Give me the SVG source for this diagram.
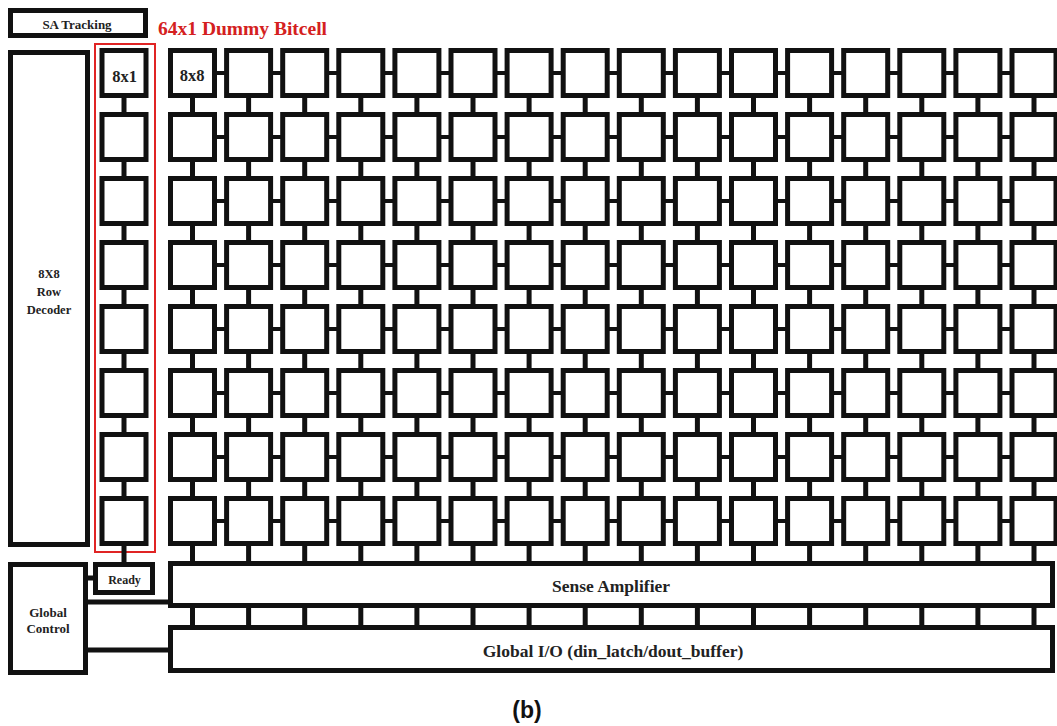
<svg xmlns="http://www.w3.org/2000/svg" xmlns:xlink="http://www.w3.org/1999/xlink" width="1057" height="726" viewBox="0 0 1057 726">
<style>
.blk{fill:#fff;stroke:#111;stroke-width:5}
.wire{stroke:#111;stroke-width:5;fill:none}
.hw{stroke:#111;stroke-width:4;fill:none}
.t{font-family:"Liberation Serif",serif;font-weight:bold;fill:#222;text-anchor:middle}
</style>
<defs>
<rect id="cell" x="2.5" y="2.5" width="44" height="45" class="blk"/>
</defs>
<rect width="1057" height="726" fill="#fff"/>
<rect x="95" y="44" width="60" height="508" fill="none" stroke="#e02424" stroke-width="2"/>
<g id="connectors">
<path class="wire" d="M192.5 60V625M248.6 60V625M304.7 60V625M360.8 60V625M416.9 60V625M473 60V625M529.1 60V625M585.2 60V625M641.3 60V625M697.4 60V625M753.5 60V625M809.6 60V625M865.7 60V625M921.8 60V625M977.9 60V625M1034 60V625"/>
<path class="wire" d="M124 60V564"/>
<path class="hw" d="M180 73H1057M180 137H1057M180 201H1057M180 265H1057M180 329H1057M180 393H1057M180 457H1057M180 521H1057"/>
<path class="wire" d="M86 578H96M86 602H171M86 650H171"/>
</g>
<g id="sa-tracking"><rect x="10.5" y="10.5" width="135" height="25" class="blk"/><text class="t" x="77" y="29" font-size="13">SA Tracking</text></g>
<g id="dummy-label"><text x="158" y="35" font-family="Liberation Serif,serif" font-weight="bold" font-size="19.5" fill="#d42020">64x1 Dummy Bitcell</text></g>
<g id="row-decoder"><rect x="10.5" y="52.5" width="77" height="492" class="blk"/><text class="t" font-size="12.5"><tspan x="49" y="278">8X8</tspan><tspan x="49" y="296">Row</tspan><tspan x="49" y="314">Decoder</tspan></text></g>
<g id="global-control"><rect x="10.5" y="564.5" width="75" height="108" class="blk"/><text class="t" font-size="13"><tspan x="48" y="617">Global</tspan><tspan x="48" y="633">Control</tspan></text></g>
<g id="ready"><rect x="95.5" y="564.5" width="57" height="28" class="blk"/><text class="t" x="124.5" y="584" font-size="12">Ready</text></g>
<g id="sense-amp"><rect x="170.5" y="563.5" width="882" height="42" class="blk"/><text class="t" x="611" y="592" font-size="17.5">Sense Amplifier</text></g>
<g id="global-io"><rect x="170.5" y="627.5" width="882" height="43" class="blk"/><text class="t" x="613" y="657" font-size="17.5">Global I/O (din_latch/dout_buffer)</text></g>
<g id="caption"><text x="527" y="718" font-family="Liberation Sans,sans-serif" font-weight="bold" font-size="23" fill="#111" text-anchor="middle">(b)</text></g>
<g id="d1"><use href="#cell" x="99.5" y="48"/><text class="t" x="124.5" y="82" font-size="16.5">8x1</text></g>
<g id="d2"><use href="#cell" x="99.5" y="112"/></g>
<g id="d3"><use href="#cell" x="99.5" y="176"/></g>
<g id="d4"><use href="#cell" x="99.5" y="240"/></g>
<g id="d5"><use href="#cell" x="99.5" y="304"/></g>
<g id="d6"><use href="#cell" x="99.5" y="368"/></g>
<g id="d7"><use href="#cell" x="99.5" y="432"/></g>
<g id="d8"><use href="#cell" x="99.5" y="496"/></g>
<g id="r1">
<g id="c1-1"><use href="#cell" x="168" y="48"/><text class="t" x="192" y="81" font-size="16.5">8x8</text></g>
<g id="c1-2"><use href="#cell" x="224.1" y="48"/></g>
<g id="c1-3"><use href="#cell" x="280.2" y="48"/></g>
<g id="c1-4"><use href="#cell" x="336.3" y="48"/></g>
<g id="c1-5"><use href="#cell" x="392.4" y="48"/></g>
<g id="c1-6"><use href="#cell" x="448.5" y="48"/></g>
<g id="c1-7"><use href="#cell" x="504.6" y="48"/></g>
<g id="c1-8"><use href="#cell" x="560.7" y="48"/></g>
<g id="c1-9"><use href="#cell" x="616.8" y="48"/></g>
<g id="c1-10"><use href="#cell" x="672.9" y="48"/></g>
<g id="c1-11"><use href="#cell" x="729" y="48"/></g>
<g id="c1-12"><use href="#cell" x="785.1" y="48"/></g>
<g id="c1-13"><use href="#cell" x="841.2" y="48"/></g>
<g id="c1-14"><use href="#cell" x="897.3" y="48"/></g>
<g id="c1-15"><use href="#cell" x="953.4" y="48"/></g>
<g id="c1-16"><use href="#cell" x="1009.5" y="48"/></g>
</g>
<g id="r2">
<g id="c2-1"><use href="#cell" x="168" y="112"/></g>
<g id="c2-2"><use href="#cell" x="224.1" y="112"/></g>
<g id="c2-3"><use href="#cell" x="280.2" y="112"/></g>
<g id="c2-4"><use href="#cell" x="336.3" y="112"/></g>
<g id="c2-5"><use href="#cell" x="392.4" y="112"/></g>
<g id="c2-6"><use href="#cell" x="448.5" y="112"/></g>
<g id="c2-7"><use href="#cell" x="504.6" y="112"/></g>
<g id="c2-8"><use href="#cell" x="560.7" y="112"/></g>
<g id="c2-9"><use href="#cell" x="616.8" y="112"/></g>
<g id="c2-10"><use href="#cell" x="672.9" y="112"/></g>
<g id="c2-11"><use href="#cell" x="729" y="112"/></g>
<g id="c2-12"><use href="#cell" x="785.1" y="112"/></g>
<g id="c2-13"><use href="#cell" x="841.2" y="112"/></g>
<g id="c2-14"><use href="#cell" x="897.3" y="112"/></g>
<g id="c2-15"><use href="#cell" x="953.4" y="112"/></g>
<g id="c2-16"><use href="#cell" x="1009.5" y="112"/></g>
</g>
<g id="r3">
<g id="c3-1"><use href="#cell" x="168" y="176"/></g>
<g id="c3-2"><use href="#cell" x="224.1" y="176"/></g>
<g id="c3-3"><use href="#cell" x="280.2" y="176"/></g>
<g id="c3-4"><use href="#cell" x="336.3" y="176"/></g>
<g id="c3-5"><use href="#cell" x="392.4" y="176"/></g>
<g id="c3-6"><use href="#cell" x="448.5" y="176"/></g>
<g id="c3-7"><use href="#cell" x="504.6" y="176"/></g>
<g id="c3-8"><use href="#cell" x="560.7" y="176"/></g>
<g id="c3-9"><use href="#cell" x="616.8" y="176"/></g>
<g id="c3-10"><use href="#cell" x="672.9" y="176"/></g>
<g id="c3-11"><use href="#cell" x="729" y="176"/></g>
<g id="c3-12"><use href="#cell" x="785.1" y="176"/></g>
<g id="c3-13"><use href="#cell" x="841.2" y="176"/></g>
<g id="c3-14"><use href="#cell" x="897.3" y="176"/></g>
<g id="c3-15"><use href="#cell" x="953.4" y="176"/></g>
<g id="c3-16"><use href="#cell" x="1009.5" y="176"/></g>
</g>
<g id="r4">
<g id="c4-1"><use href="#cell" x="168" y="240"/></g>
<g id="c4-2"><use href="#cell" x="224.1" y="240"/></g>
<g id="c4-3"><use href="#cell" x="280.2" y="240"/></g>
<g id="c4-4"><use href="#cell" x="336.3" y="240"/></g>
<g id="c4-5"><use href="#cell" x="392.4" y="240"/></g>
<g id="c4-6"><use href="#cell" x="448.5" y="240"/></g>
<g id="c4-7"><use href="#cell" x="504.6" y="240"/></g>
<g id="c4-8"><use href="#cell" x="560.7" y="240"/></g>
<g id="c4-9"><use href="#cell" x="616.8" y="240"/></g>
<g id="c4-10"><use href="#cell" x="672.9" y="240"/></g>
<g id="c4-11"><use href="#cell" x="729" y="240"/></g>
<g id="c4-12"><use href="#cell" x="785.1" y="240"/></g>
<g id="c4-13"><use href="#cell" x="841.2" y="240"/></g>
<g id="c4-14"><use href="#cell" x="897.3" y="240"/></g>
<g id="c4-15"><use href="#cell" x="953.4" y="240"/></g>
<g id="c4-16"><use href="#cell" x="1009.5" y="240"/></g>
</g>
<g id="r5">
<g id="c5-1"><use href="#cell" x="168" y="304"/></g>
<g id="c5-2"><use href="#cell" x="224.1" y="304"/></g>
<g id="c5-3"><use href="#cell" x="280.2" y="304"/></g>
<g id="c5-4"><use href="#cell" x="336.3" y="304"/></g>
<g id="c5-5"><use href="#cell" x="392.4" y="304"/></g>
<g id="c5-6"><use href="#cell" x="448.5" y="304"/></g>
<g id="c5-7"><use href="#cell" x="504.6" y="304"/></g>
<g id="c5-8"><use href="#cell" x="560.7" y="304"/></g>
<g id="c5-9"><use href="#cell" x="616.8" y="304"/></g>
<g id="c5-10"><use href="#cell" x="672.9" y="304"/></g>
<g id="c5-11"><use href="#cell" x="729" y="304"/></g>
<g id="c5-12"><use href="#cell" x="785.1" y="304"/></g>
<g id="c5-13"><use href="#cell" x="841.2" y="304"/></g>
<g id="c5-14"><use href="#cell" x="897.3" y="304"/></g>
<g id="c5-15"><use href="#cell" x="953.4" y="304"/></g>
<g id="c5-16"><use href="#cell" x="1009.5" y="304"/></g>
</g>
<g id="r6">
<g id="c6-1"><use href="#cell" x="168" y="368"/></g>
<g id="c6-2"><use href="#cell" x="224.1" y="368"/></g>
<g id="c6-3"><use href="#cell" x="280.2" y="368"/></g>
<g id="c6-4"><use href="#cell" x="336.3" y="368"/></g>
<g id="c6-5"><use href="#cell" x="392.4" y="368"/></g>
<g id="c6-6"><use href="#cell" x="448.5" y="368"/></g>
<g id="c6-7"><use href="#cell" x="504.6" y="368"/></g>
<g id="c6-8"><use href="#cell" x="560.7" y="368"/></g>
<g id="c6-9"><use href="#cell" x="616.8" y="368"/></g>
<g id="c6-10"><use href="#cell" x="672.9" y="368"/></g>
<g id="c6-11"><use href="#cell" x="729" y="368"/></g>
<g id="c6-12"><use href="#cell" x="785.1" y="368"/></g>
<g id="c6-13"><use href="#cell" x="841.2" y="368"/></g>
<g id="c6-14"><use href="#cell" x="897.3" y="368"/></g>
<g id="c6-15"><use href="#cell" x="953.4" y="368"/></g>
<g id="c6-16"><use href="#cell" x="1009.5" y="368"/></g>
</g>
<g id="r7">
<g id="c7-1"><use href="#cell" x="168" y="432"/></g>
<g id="c7-2"><use href="#cell" x="224.1" y="432"/></g>
<g id="c7-3"><use href="#cell" x="280.2" y="432"/></g>
<g id="c7-4"><use href="#cell" x="336.3" y="432"/></g>
<g id="c7-5"><use href="#cell" x="392.4" y="432"/></g>
<g id="c7-6"><use href="#cell" x="448.5" y="432"/></g>
<g id="c7-7"><use href="#cell" x="504.6" y="432"/></g>
<g id="c7-8"><use href="#cell" x="560.7" y="432"/></g>
<g id="c7-9"><use href="#cell" x="616.8" y="432"/></g>
<g id="c7-10"><use href="#cell" x="672.9" y="432"/></g>
<g id="c7-11"><use href="#cell" x="729" y="432"/></g>
<g id="c7-12"><use href="#cell" x="785.1" y="432"/></g>
<g id="c7-13"><use href="#cell" x="841.2" y="432"/></g>
<g id="c7-14"><use href="#cell" x="897.3" y="432"/></g>
<g id="c7-15"><use href="#cell" x="953.4" y="432"/></g>
<g id="c7-16"><use href="#cell" x="1009.5" y="432"/></g>
</g>
<g id="r8">
<g id="c8-1"><use href="#cell" x="168" y="496"/></g>
<g id="c8-2"><use href="#cell" x="224.1" y="496"/></g>
<g id="c8-3"><use href="#cell" x="280.2" y="496"/></g>
<g id="c8-4"><use href="#cell" x="336.3" y="496"/></g>
<g id="c8-5"><use href="#cell" x="392.4" y="496"/></g>
<g id="c8-6"><use href="#cell" x="448.5" y="496"/></g>
<g id="c8-7"><use href="#cell" x="504.6" y="496"/></g>
<g id="c8-8"><use href="#cell" x="560.7" y="496"/></g>
<g id="c8-9"><use href="#cell" x="616.8" y="496"/></g>
<g id="c8-10"><use href="#cell" x="672.9" y="496"/></g>
<g id="c8-11"><use href="#cell" x="729" y="496"/></g>
<g id="c8-12"><use href="#cell" x="785.1" y="496"/></g>
<g id="c8-13"><use href="#cell" x="841.2" y="496"/></g>
<g id="c8-14"><use href="#cell" x="897.3" y="496"/></g>
<g id="c8-15"><use href="#cell" x="953.4" y="496"/></g>
<g id="c8-16"><use href="#cell" x="1009.5" y="496"/></g>
</g>
</svg>
